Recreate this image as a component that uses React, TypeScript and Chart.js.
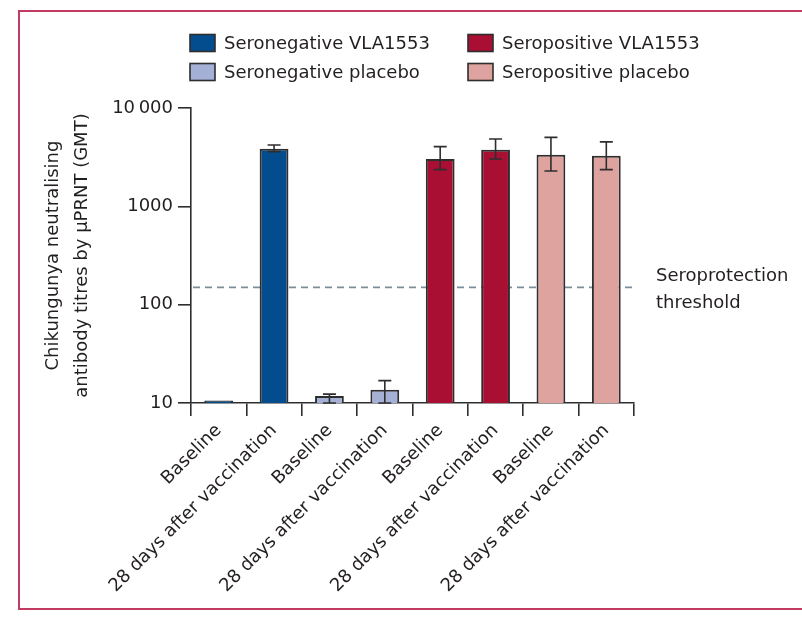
import React, { useEffect, useRef } from 'react';
import { Chart, registerables } from 'chart.js';

Chart.register(...registerables);

// ---------- data ----------
const CATEGORIES = [
  'Baseline',
  '28 days after vaccination',
  'Baseline',
  '28 days after vaccination',
  'Baseline',
  '28 days after vaccination',
  'Baseline',
  '28 days after vaccination',
];
const GROUP_NAMES = ['Seronegative VLA1553', 'Seronegative placebo', 'Seropositive VLA1553', 'Seropositive placebo'];
const GROUP_COLORS = ['#034d8e', '#a4b0d6', '#a80f33', '#dfa39f'];

// GMT [baseline, day 28] and 95% CI bounds per group
const SERONEG_VLA_GMT = [10.6, 3860];
const SERONEG_VLA_LOW: (number | null)[] = [null, 3600];
const SERONEG_VLA_HIGH: (number | null)[] = [null, 4210];

const SERONEG_PLACEBO_GMT = [11.8, 13.6];
const SERONEG_PLACEBO_LOW: (number | null)[] = [10, 10];
const SERONEG_PLACEBO_HIGH: (number | null)[] = [12.3, 16.9];

const SEROPOS_VLA_GMT = [3030, 3770];
const SEROPOS_VLA_LOW: (number | null)[] = [2360, 3030];
const SEROPOS_VLA_HIGH: (number | null)[] = [4050, 4840];

const SEROPOS_PLACEBO_GMT = [3350, 3275];
const SEROPOS_PLACEBO_LOW: (number | null)[] = [2290, 2360];
const SEROPOS_PLACEBO_HIGH: (number | null)[] = [5030, 4520];

const Y_TICKS = [10, 100, 1000, 10000];
const THRESHOLD = 150;
const THRESHOLD_LABEL = ['Seroprotection', 'threshold'];
const Y_TITLE = ['Chikungunya neutralising', 'antibody titres by \u03bcPRNT (GMT)'];

const GROUP_GMT = [SERONEG_VLA_GMT, SERONEG_PLACEBO_GMT, SEROPOS_VLA_GMT, SEROPOS_PLACEBO_GMT];
const GROUP_LOW = [SERONEG_VLA_LOW, SERONEG_PLACEBO_LOW, SEROPOS_VLA_LOW, SEROPOS_PLACEBO_LOW];
const GROUP_HIGH = [SERONEG_VLA_HIGH, SERONEG_PLACEBO_HIGH, SEROPOS_VLA_HIGH, SEROPOS_PLACEBO_HIGH];

// ---------- styling ----------
const FONT = "'DejaVu Sans', sans-serif";
const TEXT = '#231f20';
const AXIS = '#2e2e2e';

const errorBarPlugin = {
  id: 'errorBars',
  afterDatasetsDraw(chart: any) {
    const { ctx } = chart;
    const y = chart.scales.y;
    chart.data.datasets.forEach((ds: any, di: number) => {
      const meta = chart.getDatasetMeta(di);
      meta.data.forEach((bar: any, i: number) => {
        const lo = ds.errLow[i];
        const hi = ds.errHigh[i];
        if (lo == null || hi == null || ds.data[i] == null) return;
        const yl = y.getPixelForValue(lo);
        const yh = y.getPixelForValue(hi);
        const cap = 6.5;
        ctx.save();
        ctx.strokeStyle = AXIS;
        ctx.lineWidth = 1.6;
        ctx.beginPath();
        ctx.moveTo(bar.x, yl);
        ctx.lineTo(bar.x, yh);
        ctx.moveTo(bar.x - cap, yh);
        ctx.lineTo(bar.x + cap, yh);
        ctx.moveTo(bar.x - cap, yl);
        ctx.lineTo(bar.x + cap, yl);
        ctx.stroke();
        ctx.restore();
      });
    });
  },
};

const thresholdPlugin = {
  id: 'threshold',
  beforeDatasetsDraw(chart: any) {
    const { ctx, chartArea } = chart;
    const yy = chart.scales.y.getPixelForValue(THRESHOLD);
    ctx.save();
    ctx.strokeStyle = '#7b8e98';
    ctx.lineWidth = 1.6;
    ctx.setLineDash([7, 5]);
    ctx.beginPath();
    ctx.moveTo(chartArea.left + 2, yy);
    ctx.lineTo(chartArea.right + 3, yy);
    ctx.stroke();
    ctx.restore();
  },
  afterDraw(chart: any) {
    const { ctx, chartArea } = chart;
    const yy = chart.scales.y.getPixelForValue(THRESHOLD);
    ctx.save();
    ctx.fillStyle = TEXT;
    ctx.font = `18px ${FONT}`;
    ctx.textAlign = 'left';
    ctx.textBaseline = 'alphabetic';
    ctx.fillText(THRESHOLD_LABEL[0], chartArea.right + 22, yy - 6);
    ctx.fillText(THRESHOLD_LABEL[1], chartArea.right + 22, yy + 21);
    ctx.restore();
  },
};

const legendPlugin = {
  id: 'customLegend',
  afterDraw(chart: any) {
    const { ctx, chartArea } = chart;
    const colX = [chartArea.left - 1, chartArea.left + 277];
    const rowY = [43, 72];
    // order: column by serostatus, row by arm
    const layout = [
      [0, 0, 0],
      [1, 0, 1],
      [2, 1, 0],
      [3, 1, 1],
    ];
    ctx.save();
    ctx.font = `18px ${FONT}`;
    ctx.textBaseline = 'middle';
    ctx.textAlign = 'left';
    layout.forEach(([gi, col, row]) => {
      const x = colX[col];
      const y = rowY[row];
      ctx.fillStyle = GROUP_COLORS[gi];
      ctx.fillRect(x, y - 8.5, 25, 17);
      ctx.strokeStyle = AXIS;
      ctx.lineWidth = 1.6;
      ctx.strokeRect(x, y - 8.5, 25, 17);
      ctx.fillStyle = TEXT;
      ctx.fillText(GROUP_NAMES[gi], x + 34, y + 1);
    });
    ctx.restore();
  },
};

export default function App() {
  const ref = useRef<HTMLCanvasElement>(null);

  useEffect(() => {
    if (!ref.current) return;
    const datasets = GROUP_NAMES.map((name, gi) => ({
      label: name,
      data: CATEGORIES.map((_, ci) => (Math.floor(ci / 2) === gi ? GROUP_GMT[gi][ci % 2] : null)),
      errLow: CATEGORIES.map((_, ci) => (Math.floor(ci / 2) === gi ? GROUP_LOW[gi][ci % 2] : null)),
      errHigh: CATEGORIES.map((_, ci) => (Math.floor(ci / 2) === gi ? GROUP_HIGH[gi][ci % 2] : null)),
      backgroundColor: GROUP_COLORS[gi],
      borderColor: AXIS,
      borderWidth: 2,
      grouped: false,
      barPercentage: 0.52,
      categoryPercentage: 1,
    }));

    const chart = new Chart(ref.current, {
      type: 'bar',
      data: { labels: CATEGORIES, datasets: datasets as any },
      plugins: [thresholdPlugin, errorBarPlugin, legendPlugin],
      options: {
        animation: false,
        responsive: false,
        devicePixelRatio: 1,
        layout: { padding: { left: 39, right: 168, top: 108, bottom: 10 } },
        plugins: {
          legend: { display: false },
          tooltip: { enabled: false },
        },
        scales: {
          x: {
            type: 'category',
            offset: true,
            grid: {
              offset: true,
              drawOnChartArea: false,
              drawTicks: true,
              tickLength: 13,
              tickColor: AXIS,
              lineWidth: 1.6,
            },
            border: { display: true, color: AXIS, width: 1.6 },
            ticks: {
              autoSkip: false,
              minRotation: 45,
              maxRotation: 45,
              padding: 4,
              color: TEXT,
              font: { family: FONT, size: 18 },
            },
            afterFit: (s: any) => {
              s.height = 205;
            },
          },
          y: {
            type: 'logarithmic',
            min: 10,
            max: 10000,
            afterBuildTicks: (s: any) => {
              s.ticks = Y_TICKS.map((value) => ({ value }));
            },
            grid: {
              drawOnChartArea: false,
              drawTicks: true,
              tickLength: 13,
              tickColor: AXIS,
              lineWidth: 1.6,
            },
            border: { display: true, color: AXIS, width: 1.6 },
            ticks: {
              padding: 5,
              color: TEXT,
              font: { family: FONT, size: 18 },
              callback: (v: any) => (Number(v) === 10000 ? '10\u2009000' : String(v)),
            },
            title: {
              display: true,
              text: Y_TITLE,
              color: TEXT,
              font: { family: FONT, size: 18, lineHeight: 1.6 },
              padding: { top: 0, bottom: 0 },
            },
            afterFit: (s: any) => {
              s.width = 152;
            },
          },
        },
      },
    });
    return () => chart.destroy();
  }, []);

  return (
    <div
      style={{
        position: 'fixed',
        left: 0,
        top: 0,
        width: 802,
        height: 618,
        overflow: 'hidden',
        background: '#ffffff',
      }}
    >
      <div
        style={{
          position: 'absolute',
          left: 18,
          top: 10,
          width: 900,
          height: 596,
          border: '2px solid #c03a62',
          borderRight: 'none',
        }}
      />
      <canvas
        ref={ref}
        width={802}
        height={618}
        style={{ position: 'absolute', left: 0, top: 0, width: 802, height: 618 }}
      />
    </div>
  );
}
